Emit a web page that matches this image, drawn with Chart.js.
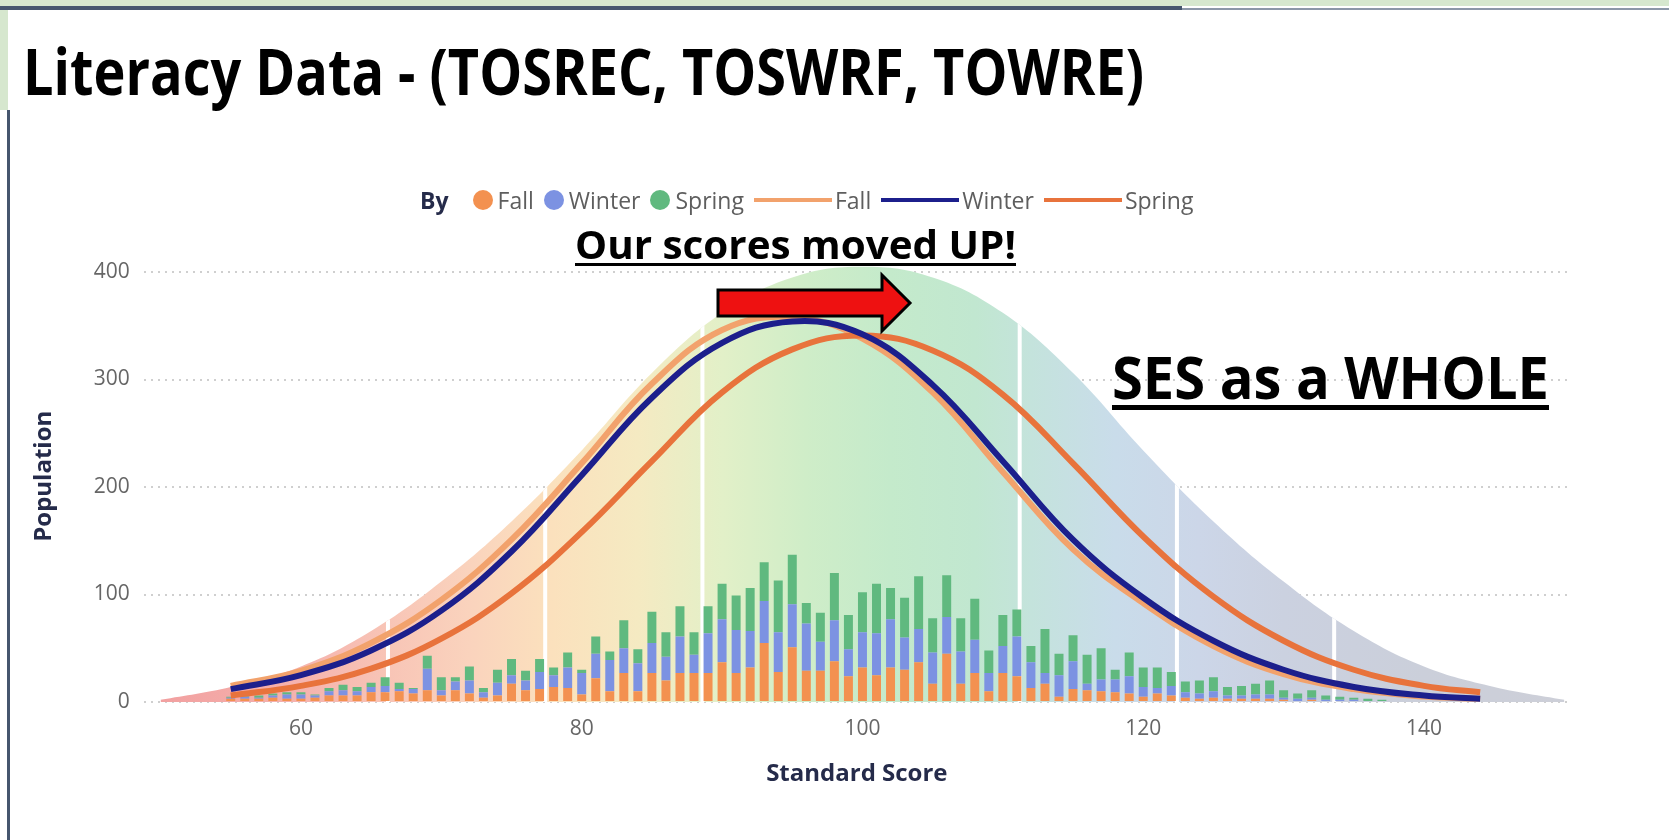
<!DOCTYPE html>
<html>
<head>
<meta charset="utf-8">
<script src="https://cdn.jsdelivr.net/npm/chart.js@4.4.1/dist/chart.umd.min.js"></script>
<style>
html,body{margin:0;padding:0;width:1669px;height:840px;overflow:hidden;background:#ffffff;}
.abs{position:absolute;}
#title{left:23px;top:39px;font-family:"Open Sans",sans-serif;font-weight:700;font-size:64px;line-height:1;color:#000;white-space:nowrap;transform-origin:0 0;}
#note1{left:575px;top:224px;font-family:"Open Sans",sans-serif;font-weight:700;font-size:39px;line-height:1;color:#000;white-space:nowrap;text-decoration:underline;text-decoration-thickness:3px;text-underline-offset:4px;transform-origin:0 0;}
#note2{left:1112px;top:347px;font-family:"Open Sans",sans-serif;font-weight:700;font-size:59px;line-height:1;color:#000;white-space:nowrap;text-decoration:underline;text-decoration-thickness:5px;text-underline-offset:6px;transform-origin:0 0;}
#legend{left:420px;top:186px;height:28px;display:flex;align-items:center;font-family:"Open Sans",sans-serif;font-size:23px;color:#5e5e5e;white-space:nowrap;}
#legend .by{font-weight:700;color:#252b4a;margin-right:24px;}
#legend .dot{display:inline-block;width:20px;height:20px;border-radius:50%;margin-right:5px;}
#legend .ln{display:inline-block;width:78px;height:4px;margin-right:3px;}
#legend .item{display:flex;align-items:center;margin-right:10px;}
</style>
</head>
<body>
<div class="abs" style="left:0;top:0;width:1669px;height:6px;background:#d6e7ce;"></div>
<div class="abs" style="left:0;top:6px;width:1182px;height:4px;background:#46566e;"></div>
<div class="abs" style="left:1182px;top:8px;width:487px;height:2px;background:#8c97a8;"></div>
<div class="abs" style="left:0;top:10px;width:8px;height:100px;background:#d6e7ce;"></div>
<div class="abs" style="left:7px;top:110px;width:3px;height:730px;background:#46566e;"></div>

<canvas id="c" width="1669" height="840" class="abs" style="left:0;top:0;width:1669px;height:840px;"></canvas>

<div id="title" class="abs">Literacy Data - (TOSREC, TOSWRF, TOWRE)</div>
<div id="legend" class="abs"></div>
<div id="note1" class="abs">Our scores moved UP!</div>
<svg class="abs" style="left:0;top:0;" width="1669" height="840">
  <polygon points="718,290 882,290 882,275 910,303 882,331 882,316 718,316" fill="#ee1111" stroke="#000" stroke-width="3" stroke-linejoin="miter"/>
</svg>
<div id="note2" class="abs">SES as a WHOLE</div>

<script>
// ---------- data ----------
const barScores  = [55,56,57,58,59,60,61,62,63,64,65,66,67,68,69,70,71,72,73,74,75,76,77,78,79,80,81,82,83,84,85,86,87,88,89,90,91,92,93,94,95,96,97,98,99,100,101,102,103,104,105,106,107,108,109,110,111,112,113,114,115,116,117,118,119,120,121,122,123,124,125,126,127,128,129,130,131,132,133,134,135,136,137,138,139];
const fallCounts   = [3,3,3,4,3,3,4,6,6,6,9,9,10,8,11,6,11,8,4,6,17,11,12,14,13,7,22,10,27,10,27,20,27,27,27,37,27,32,55,28,51,29,29,38,24,32,25,32,30,37,17,45,17,27,10,27,24,13,17,5,12,11,10,9,8,5,8,6,4,3,4,3,3,3,3,2,1,2,1,1,1,0,0,0,0];
const winterCounts = [1,2,1,2,4,4,2,4,5,4,5,6,2,4,20,5,8,12,5,12,8,9,16,11,19,20,23,29,23,26,28,22,34,17,37,40,40,34,39,37,40,44,27,38,25,33,39,45,30,31,29,34,30,31,17,25,37,24,10,20,26,6,11,12,16,9,5,9,5,5,6,3,3,4,4,2,2,2,1,1,1,1,1,0,0];
const springCounts = [1,2,2,2,2,2,1,3,5,4,4,8,6,1,12,12,4,13,4,12,15,9,12,7,14,3,16,8,26,13,29,23,28,21,25,33,32,40,36,48,46,19,27,44,32,37,46,29,37,49,32,39,31,38,21,29,25,15,41,20,24,27,29,9,22,18,19,13,10,12,13,8,9,10,13,7,5,7,4,3,2,2,1,1,1];

const curveScores  = [55,60,65,70,75,80,85,90,95,100,105,110,115,120,125,130,135,140,144];
const fallCurve    = [15,29,55,95,151,222,296,346,358,338,288,214,142,92,52,26,12,5,3];
const winterCurve  = [12,25,48,85,140,211,283,334,354,342,295,224,151,97,57,30,14,6,3];
const springCurve  = [6,15,31,59,101,158,224,288,328,341,327,286,222,154,98,57,30,15,9];

const areaScores = [50,55,60,65,70,75,80,85,90,95,100,105,110,115,120,125,130,135,140,145,150];
const areaValues = [2,14,33,66,112,168,234,306,362,395,405,395,362,306,234,168,112,66,33,14,2];
const bandEdges  = [66.2,77.4,88.6,111.2,122.4,133.6];
const gradScores = [50,60,66,72,78,84,90,96,102,108,112,118,124,130,140,150];
const gradColors = ['#f2a0a0','#f5b3ae','#f8c4b6','#fad3bd','#fbe1bd','#f5eac2','#e2f0c8','#cfedc8','#c4eacb','#c1e7d0','#c4e3dc','#c9dcea','#ccd6e8','#cbd1e0','#cbcfda','#cdcfd8'];

const xTicks = [60,80,100,120,140];
const yTicks = [0,100,200,300,400];

const legendItems = [
  {label:'Fall',   kind:'dot',  color:'#f39150'},
  {label:'Winter', kind:'dot',  color:'#7c92e2'},
  {label:'Spring', kind:'dot',  color:'#60b97f'},
  {label:'Fall',   kind:'line', color:'#f2a26c'},
  {label:'Winter', kind:'line', color:'#1c1f8c'},
  {label:'Spring', kind:'line', color:'#e8733c'}
];

// ---------- legend ----------
const lg = document.getElementById('legend');
lg.innerHTML = '<span class="by">By</span>' + legendItems.map(it =>
  '<span class="item">' + (it.kind==='dot'
    ? '<span class="dot" style="background:'+it.color+'"></span>'
    : '<span class="ln" style="background:'+it.color+'"></span>') + '<span>'+it.label+'</span></span>').join('');

// ---------- fit annotation widths ----------
function fitW(id, w){ const el=document.getElementById(id); const cw=el.getBoundingClientRect().width; el.style.transform='scaleX('+(w/cw)+')'; }
fitW('title',1121); fitW('note1',441); fitW('note2',437);

// ---------- chart ----------
const pts = (xs, ys) => xs.map((x,i)=>({x:x, y:ys[i]}));

const bandLines = {
  id:'bandLines',
  afterDatasetDraw(chart, args){
    if (args.index !== 0) return;
    const meta = args.meta, el = meta.dataset, ctx = chart.ctx;
    const xs = chart.scales.x, ys = chart.scales.y2;
    const base = ys.getPixelForValue(0);
    ctx.save();
    ctx.beginPath();
    el.path(ctx);
    const p = meta.data;
    ctx.lineTo(p[p.length-1].x, base);
    ctx.lineTo(p[0].x, base);
    ctx.closePath();
    ctx.clip();
    ctx.strokeStyle = '#ffffff';
    ctx.lineWidth = 4;
    bandEdges.forEach(v=>{
      const px = xs.getPixelForValue(v);
      ctx.beginPath(); ctx.moveTo(px, chart.chartArea.top); ctx.lineTo(px, base); ctx.stroke();
    });
    ctx.restore();
  }
};

function areaFill(context){
  const chart = context.chart;
  const {ctx, chartArea, scales} = chart;
  if (!chartArea) return 'rgba(0,0,0,0)';
  const x0 = scales.x.getPixelForValue(gradScores[0]);
  const x1 = scales.x.getPixelForValue(gradScores[gradScores.length-1]);
  const g = ctx.createLinearGradient(x0,0,x1,0);
  gradScores.forEach((s,i)=> g.addColorStop((s-gradScores[0])/(gradScores[gradScores.length-1]-gradScores[0]), gradColors[i]));
  return g;
}

const fontFam = '"Open Sans", sans-serif';
const curveOpts = {yAxisID:'y2', borderWidth:6, pointRadius:0, tension:0.4, fill:false};

new Chart(document.getElementById('c'), {
  data: {
    datasets: [
      {type:'line', label:'area', data: pts(areaScores, areaValues), yAxisID:'y2', fill:'origin',
       backgroundColor: areaFill, borderWidth:0, pointRadius:0, tension:0.4, order:10},
      {type:'bar', label:'Fall', data: pts(barScores, fallCounts), backgroundColor:'#f39150', yAxisID:'y', stack:'s', order:5, barPercentage:0.64, categoryPercentage:1},
      {type:'bar', label:'Winter', data: pts(barScores, winterCounts), backgroundColor:'#7c92e2', yAxisID:'y', stack:'s', order:5, barPercentage:0.64, categoryPercentage:1},
      {type:'bar', label:'Spring', data: pts(barScores, springCounts), backgroundColor:'#60b97f', yAxisID:'y', stack:'s', order:5, barPercentage:0.64, categoryPercentage:1},
      Object.assign({type:'line', label:'Fall curve', data: pts(curveScores, fallCurve), borderColor:'#f2a26c', order:3}, curveOpts),
      Object.assign({type:'line', label:'Spring curve', data: pts(curveScores, springCurve), borderColor:'#e8733c', order:2}, curveOpts),
      Object.assign({type:'line', label:'Winter curve', data: pts(curveScores, winterCurve), borderColor:'#1c1f8c', order:1}, curveOpts)
    ]
  },
  options: {
    responsive:false,
    animation:false,
    devicePixelRatio:1,
    layout:{padding:{left:18, top:250.5, right:99, bottom:20}},
    plugins:{legend:{display:false}, tooltip:{enabled:false}},
    scales:{
      x:{type:'linear', min:48.8, max:150.4, offset:false, stacked:true,
         afterBuildTicks:(s)=>{ s.ticks = xTicks.map(v=>({value:v})); },
         afterFit:(s)=>{ s.height = 118; },
         grid:{display:false, drawTicks:false}, border:{display:false},
         ticks:{color:'#666666', font:{family:fontFam, size:21}, padding:14, maxRotation:0},
         title:{display:true, text:'Standard Score', color:'#252b4a', font:{family:fontFam, size:24, weight:'bold'}, padding:{top:0,bottom:31}}
      },
      y:{type:'linear', min:0, max:420, stacked:true, position:'left',
         afterBuildTicks:(s)=>{ s.ticks = yTicks.map(v=>({value:v})); },
         afterFit:(s)=>{ s.width = 125.7; },
         grid:{color:'#cfcfcf', lineWidth:2, drawTicks:false}, border:{display:false, dash:[2,5]},
         ticks:{color:'#666666', font:{family:fontFam, size:21}, padding:14},
         title:{display:true, text:'Population', color:'#252b4a', font:{family:fontFam, size:24, weight:'bold'}, padding:{top:12,bottom:0}}
      },
      y2:{type:'linear', min:0, max:420, display:false}
    }
  },
  plugins:[bandLines]
});
</script>
</body>
</html>
